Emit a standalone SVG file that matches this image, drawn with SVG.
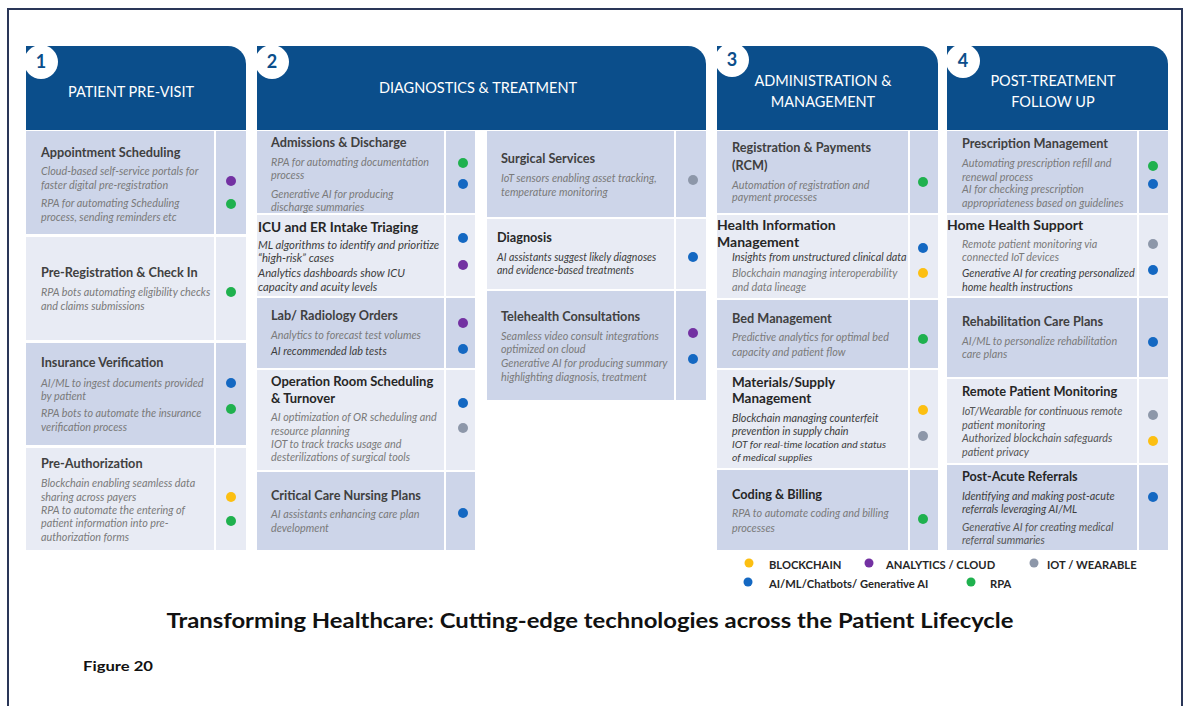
<svg xmlns="http://www.w3.org/2000/svg" width="1190" height="706" viewBox="0 0 1190 706">
<style>
text{font-family:Lato,"Liberation Sans",Arial,sans-serif}
.hdr{fill:#0b4e8b}
.m{fill:#cdd5e9}
.l{fill:#e8ebf4}
.h{font-size:14.5px;fill:#fff;text-anchor:middle}
.n{font-size:18px;font-weight:700;fill:#0b4e8b;text-anchor:middle}
.t{font-size:12.7px;font-weight:700;fill:#404040}
.tk{font-size:12.7px;font-weight:700;fill:#262626}
.d{font-size:10.8px;font-style:italic;fill:#7a7a7a}
.dk{font-size:10.8px;font-style:italic;fill:#3d3d3d}
.d2{font-size:10.8px;font-style:italic;fill:#555}
.y{fill:#fcbf12}.p{fill:#7331a2}.g{fill:#1fb14e}.b{fill:#1468c2}.s{fill:#8d97a9}
.lg{font-size:11.2px;font-weight:700;fill:#262626}
.num{fill:#fff}
</style>
<rect x="0" y="0" width="1190" height="706" fill="#fff"/>
<rect x="8" y="9" width="1174" height="720" fill="none" stroke="#2a3658" stroke-width="2"/>

<!-- Column 1 -->
<g id="col1-header">
<path class="hdr" d="M26 46H228A18 18 0 0 1 246 64V130H26Z"/>
<circle class="num" cx="41" cy="62" r="17"/>
<text class="n" x="41" y="68">1</text>
<text class="h" x="131" y="97">PATIENT PRE-VISIT</text>
</g>
<g id="appointment-scheduling">
<rect class="m" x="26" y="131" width="188" height="103"/><rect class="m" x="216" y="131" width="30" height="103"/>
<text class="t" x="41" y="157">Appointment Scheduling</text>
<text class="d" x="41" y="175">Cloud-based self-service portals for</text>
<text class="d" x="41" y="189">faster digital pre-registration</text>
<text class="d" x="41" y="207">RPA for automating Scheduling</text>
<text class="d" x="41" y="221">process, sending reminders etc</text>
<circle class="p" cx="231" cy="181" r="5"/><circle class="g" cx="231" cy="204" r="5"/>
</g>
<g id="pre-registration">
<rect class="l" x="26" y="237" width="188" height="103"/><rect class="l" x="216" y="237" width="30" height="103"/>
<text class="t" x="41" y="277">Pre-Registration &amp; Check In</text>
<text class="d" x="41" y="296">RPA bots automating eligibility checks</text>
<text class="d" x="41" y="310">and claims submissions</text>
<circle class="g" cx="231" cy="292" r="5"/>
</g>
<g id="insurance-verification">
<rect class="m" x="26" y="343" width="188" height="102"/><rect class="m" x="216" y="343" width="30" height="102"/>
<text class="t" x="41" y="367">Insurance Verification</text>
<text class="d" x="41" y="387">AI/ML to ingest documents provided</text>
<text class="d" x="41" y="400">by patient</text>
<text class="d" x="41" y="417">RPA bots to automate the insurance</text>
<text class="d" x="41" y="431">verification process</text>
<circle class="b" cx="231" cy="383" r="5"/><circle class="g" cx="231" cy="409" r="5"/>
</g>
<g id="pre-authorization">
<rect class="l" x="26" y="448" width="188" height="102"/><rect class="l" x="216" y="448" width="30" height="102"/>
<text class="t" x="41" y="468">Pre-Authorization</text>
<text class="d" x="41" y="487">Blockchain enabling seamless data</text>
<text class="d" x="41" y="501">sharing across payers</text>
<text class="d" x="41" y="514">RPA to automate the entering of</text>
<text class="d" x="41" y="527">patient information into pre-</text>
<text class="d" x="41" y="541">authorization forms</text>
<circle class="y" cx="231" cy="497" r="5"/><circle class="g" cx="231" cy="521" r="5"/>
</g>

<!-- Column 2 -->
<g id="col2-header">
<path class="hdr" d="M257 46H688A18 18 0 0 1 706 64V130H257Z"/>
<circle class="num" cx="272" cy="62" r="17"/>
<text class="n" x="272" y="68">2</text>
<text class="h" x="478" y="93">DIAGNOSTICS &amp; TREATMENT</text>
</g>
<g id="admissions-discharge">
<rect class="m" x="257" y="131" width="187" height="82"/><rect class="m" x="446" y="131" width="29" height="82"/>
<text class="t" x="271" y="147">Admissions &amp; Discharge</text>
<text class="d" x="271" y="166">RPA for automating documentation</text>
<text class="d" x="271" y="179">process</text>
<text class="d" x="271" y="198">Generative AI for producing</text>
<text class="d" x="271" y="211">discharge summaries</text>
<circle class="g" cx="463" cy="163" r="5"/><circle class="b" cx="463" cy="184" r="5"/>
</g>
<g id="icu-er-triaging">
<rect class="l" x="257" y="215" width="187" height="81"/><rect class="l" x="446" y="215" width="29" height="81"/>
<text class="tk" x="258" y="232" style="font-size:13.6px">ICU and ER Intake Triaging</text>
<text class="dk" x="258" y="249" style="font-size:11.3px">ML algorithms to identify and prioritize</text>
<text class="dk" x="258" y="262" style="font-size:11.3px">“high-risk” cases</text>
<text class="dk" x="258" y="277" style="font-size:11.3px">Analytics dashboards show ICU</text>
<text class="dk" x="258" y="291" style="font-size:11.3px">capacity and acuity levels</text>
<circle class="b" cx="463" cy="238" r="5"/><circle class="p" cx="463" cy="265" r="5"/>
</g>
<g id="lab-radiology-orders">
<rect class="m" x="257" y="298" width="187" height="70"/><rect class="m" x="446" y="298" width="29" height="70"/>
<text class="t" x="271" y="320">Lab/ Radiology Orders</text>
<text class="d" x="271" y="339">Analytics to forecast test volumes</text>
<text class="dk" x="271" y="355">AI recommended lab tests</text>
<circle class="p" cx="463" cy="323" r="5"/><circle class="b" cx="463" cy="349" r="5"/>
</g>
<g id="operation-room-scheduling">
<rect class="l" x="257" y="370" width="187" height="100"/><rect class="l" x="446" y="370" width="29" height="100"/>
<text class="tk" x="271" y="386" style="font-size:13px">Operation Room Scheduling</text>
<text class="tk" x="271" y="403" style="font-size:13px">&amp; Turnover</text>
<text class="d" x="271" y="421">AI optimization of OR scheduling and</text>
<text class="d" x="271" y="435">resource planning</text>
<text class="d" x="271" y="448">IOT  to track tracks usage and</text>
<text class="d" x="271" y="461">desterilizations of surgical tools</text>
<circle class="b" cx="463" cy="403" r="5"/><circle class="s" cx="463" cy="428" r="5"/>
</g>
<g id="critical-care-nursing">
<rect class="m" x="257" y="472" width="187" height="78"/><rect class="m" x="446" y="472" width="29" height="78"/>
<text class="t" x="271" y="500">Critical Care Nursing Plans</text>
<text class="d" x="271" y="518">AI assistants enhancing care plan</text>
<text class="d" x="271" y="532">development</text>
<circle class="b" cx="463" cy="513" r="5"/>
</g>
<g id="surgical-services">
<rect class="m" x="487" y="131" width="187" height="86"/><rect class="m" x="676" y="131" width="30" height="86"/>
<text class="t" x="501" y="163">Surgical Services</text>
<text class="d" x="501" y="182">IoT sensors enabling asset tracking,</text>
<text class="d" x="501" y="196">temperature monitoring</text>
<circle class="s" cx="693" cy="180" r="5"/>
</g>
<g id="diagnosis">
<rect class="l" x="487" y="219" width="187" height="70"/><rect class="l" x="676" y="219" width="30" height="70"/>
<text class="tk" x="497" y="242">Diagnosis</text>
<text class="dk" x="497" y="261" style="font-size:10.5px">AI assistants suggest likely diagnoses</text>
<text class="dk" x="497" y="274" style="font-size:10.5px">and evidence-based treatments</text>
<circle class="b" cx="693" cy="257" r="5"/>
</g>
<g id="telehealth-consultations">
<rect class="m" x="487" y="291" width="187" height="109"/><rect class="m" x="676" y="291" width="30" height="109"/>
<text class="t" x="501" y="321">Telehealth Consultations</text>
<text class="d" x="501" y="340">Seamless video consult integrations</text>
<text class="d" x="501" y="353">optimized on cloud</text>
<text class="d" x="501" y="367">Generative AI for producing summary</text>
<text class="d" x="501" y="381">highlighting diagnosis, treatment</text>
<circle class="p" cx="693" cy="333" r="5"/><circle class="b" cx="693" cy="359" r="5"/>
</g>

<!-- Column 3 -->
<g id="col3-header">
<path class="hdr" d="M717 46H920A18 18 0 0 1 938 64V130H717Z"/>
<circle class="num" cx="732" cy="60" r="17"/>
<text class="n" x="732" y="66">3</text>
<text class="h" x="823" y="86">ADMINISTRATION &amp;</text>
<text class="h" x="823" y="107">MANAGEMENT</text>
</g>
<g id="registration-payments">
<rect class="m" x="717" y="131" width="191" height="82"/><rect class="m" x="910" y="131" width="28" height="82"/>
<text class="t" x="732" y="152">Registration &amp; Payments</text>
<text class="t" x="732" y="170">(RCM)</text>
<text class="d" x="732" y="189">Automation of registration and</text>
<text class="d" x="732" y="201">payment processes</text>
<circle class="g" cx="923" cy="182" r="5"/>
</g>
<g id="health-information-management">
<rect class="l" x="717" y="215" width="191" height="83"/><rect class="l" x="910" y="215" width="28" height="83"/>
<text class="tk" x="717" y="230" style="font-size:14px">Health Information</text>
<text class="tk" x="717" y="247" style="font-size:14px">Management</text>
<text class="dk" x="732" y="261">Insights from unstructured clinical data</text>
<text class="d" x="732" y="277">Blockchain managing interoperability</text>
<text class="d" x="732" y="291">and data lineage</text>
<circle class="b" cx="923" cy="248" r="5"/><circle class="y" cx="923" cy="273" r="5"/>
</g>
<g id="bed-management">
<rect class="m" x="717" y="300" width="191" height="68"/><rect class="m" x="910" y="300" width="28" height="68"/>
<text class="t" x="732" y="323">Bed Management</text>
<text class="d" x="732" y="341">Predictive analytics for optimal bed</text>
<text class="d" x="732" y="356">capacity and patient flow</text>
<circle class="g" cx="923" cy="339" r="5"/>
</g>
<g id="materials-supply">
<rect class="l" x="717" y="370" width="191" height="98"/><rect class="l" x="910" y="370" width="28" height="98"/>
<text class="tk" x="732" y="387" style="font-size:13.5px">Materials/Supply</text>
<text class="tk" x="732" y="403" style="font-size:13.5px">Management</text>
<text class="dk" x="732" y="422">Blockchain managing counterfeit</text>
<text class="dk" x="732" y="435">prevention in supply chain</text>
<text class="dk" x="732" y="448" style="font-size:10.3px">IOT for real-time location and status</text>
<text class="dk" x="732" y="461" style="font-size:10.3px">of medical supplies</text>
<circle class="y" cx="923" cy="410" r="5"/><circle class="s" cx="923" cy="436" r="5"/>
</g>
<g id="coding-billing">
<rect class="m" x="717" y="470" width="191" height="80"/><rect class="m" x="910" y="470" width="28" height="80"/>
<text class="tk" x="732" y="499">Coding &amp; Billing</text>
<text class="d" x="732" y="517">RPA to automate coding and billing</text>
<text class="d" x="732" y="532">processes</text>
<circle class="g" cx="923" cy="519" r="5"/>
</g>

<!-- Column 4 -->
<g id="col4-header">
<path class="hdr" d="M947 46H1150A18 18 0 0 1 1168 64V130H947Z"/>
<circle class="num" cx="963" cy="61" r="17"/>
<text class="n" x="963" y="67">4</text>
<text class="h" x="1053" y="86">POST-TREATMENT</text>
<text class="h" x="1053" y="107">FOLLOW UP</text>
</g>
<g id="prescription-management">
<rect class="m" x="947" y="131" width="190" height="82"/><rect class="m" x="1139" y="131" width="29" height="82"/>
<text class="t" x="962" y="148">Prescription Management</text>
<text class="d" x="962" y="167">Automating prescription refill and</text>
<text class="d" x="962" y="181">renewal process</text>
<text class="d" x="962" y="193">AI for checking prescription</text>
<text class="d" x="962" y="207">appropriateness based on guidelines</text>
<circle class="g" cx="1153" cy="166" r="5"/><circle class="b" cx="1153" cy="184" r="5"/>
</g>
<g id="home-health-support">
<rect class="l" x="947" y="215" width="190" height="81"/><rect class="l" x="1139" y="215" width="29" height="81"/>
<text class="tk" x="947" y="230" style="font-size:14px">Home Health Support</text>
<text class="d" x="962" y="248">Remote patient monitoring via</text>
<text class="d" x="962" y="261">connected IoT devices</text>
<text class="dk" x="962" y="277">Generative AI for creating personalized</text>
<text class="dk" x="962" y="291">home health instructions</text>
<circle class="s" cx="1153" cy="244" r="5"/><circle class="b" cx="1153" cy="270" r="5"/>
</g>
<g id="rehabilitation-care-plans">
<rect class="m" x="947" y="298" width="190" height="79"/><rect class="m" x="1139" y="298" width="29" height="79"/>
<text class="t" x="962" y="326">Rehabilitation Care Plans</text>
<text class="d" x="962" y="345">AI/ML to personalize rehabilitation</text>
<text class="d" x="962" y="358">care plans</text>
<circle class="b" cx="1153" cy="342" r="5"/>
</g>
<g id="remote-patient-monitoring">
<rect class="l" x="947" y="379" width="190" height="84"/><rect class="l" x="1139" y="379" width="29" height="84"/>
<text class="tk" x="962" y="396" style="font-size:12.8px">Remote Patient Monitoring</text>
<text class="d2" x="962" y="415">IoT/Wearable for continuous remote</text>
<text class="d2" x="962" y="429">patient monitoring</text>
<text class="d2" x="962" y="442">Authorized blockchain safeguards</text>
<text class="d2" x="962" y="456">patient privacy</text>
<circle class="s" cx="1153" cy="415" r="5"/><circle class="y" cx="1153" cy="441" r="5"/>
</g>
<g id="post-acute-referrals">
<rect class="m" x="947" y="465" width="190" height="85"/><rect class="m" x="1139" y="465" width="29" height="85"/>
<text class="tk" x="962" y="481" style="font-size:12.6px">Post-Acute Referrals</text>
<text class="dk" x="962" y="500">Identifying and making post-acute</text>
<text class="dk" x="962" y="513">referrals leveraging AI/ML</text>
<text class="d2" x="962" y="531">Generative AI for creating medical</text>
<text class="d2" x="962" y="544">referral summaries</text>
<circle class="b" cx="1153" cy="497" r="5"/>
</g>

<!-- Legend -->
<g id="legend">
<circle class="y" cx="749" cy="563" r="4.5"/><text class="lg" x="769" y="569">BLOCKCHAIN</text>
<circle class="p" cx="869" cy="563" r="4.5"/><text class="lg" x="886" y="569">ANALYTICS / CLOUD</text>
<circle class="s" cx="1034" cy="563" r="4.5"/><text class="lg" x="1047" y="569">IOT / WEARABLE</text>
<circle class="b" cx="748" cy="582" r="4.5"/><text class="lg" x="769" y="588">AI/ML/Chatbots/ Generative AI</text>
<circle class="g" cx="971" cy="582" r="4.5"/><text class="lg" x="990" y="588">RPA</text>
</g>

<text x="590" y="628" text-anchor="middle" style="font-size:20.5px;font-weight:700;fill:#111" textLength="847" lengthAdjust="spacingAndGlyphs">Transforming Healthcare: Cutting-edge technologies across the Patient Lifecycle</text>
<text x="83" y="671" style="font-size:14px;font-weight:700;fill:#111" textLength="70" lengthAdjust="spacingAndGlyphs">Figure 20</text>
</svg>
